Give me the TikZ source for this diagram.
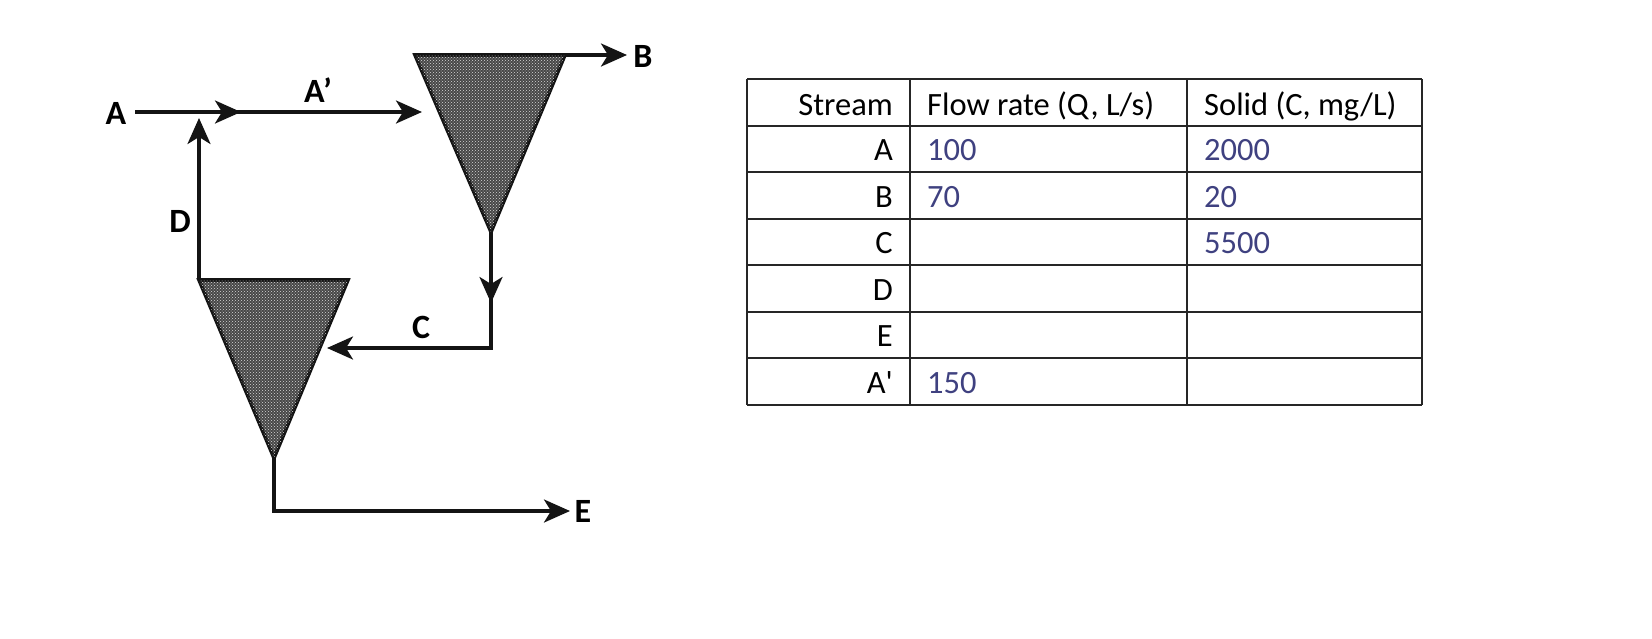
\documentclass[tikz,border=0pt]{standalone}
\usepackage{fontspec}
\setmainfont{Carlito}
\newfontfamily\tablefont{Carlito}
\usetikzlibrary{arrows.meta,patterns}

\definecolor{valueblue}{HTML}{3F4180}

\tikzset{
  flow/.style={line width=3.4pt,black!92},
  flowtip/.style={-{Stealth[length=26pt,width=23pt,inset=7pt]}},
  tank/.style={draw=black!92,line width=3.6pt,line join=miter,fill=black!72,
    postaction={pattern=crosshatch dots,pattern color=white!85!black}},
  streamlabel/.style={font=\fontsize{34}{34}\selectfont\bfseries,inner sep=0pt},
  tablerule/.style={line width=1.3pt,black!85},
  rowname/.style={font=\fontsize{32.5}{32.5}\tablefont\selectfont,anchor=base east,inner sep=0pt},
  cellvalue/.style={font=\fontsize{32.5}{32.5}\tablefont\selectfont,anchor=base west,inner sep=0pt,text=valueblue},
  headcell/.style={font=\fontsize{32.5}{32.5}\tablefont\selectfont,anchor=base west,inner sep=0pt}
}

\begin{document}
\begin{tikzpicture}[x=1pt,y=-1pt]
\useasboundingbox (0,0) rectangle (1652,638);

% settling tanks
\coordinate (t1a) at (415,55);
\coordinate (t1b) at (565,55);
\coordinate (t1c) at (491,232);
\coordinate (t2a) at (199,280);
\coordinate (t2b) at (348,280);
\coordinate (t2c) at (274,458);
\draw[tank] (t1a) -- (t1b) -- (t1c) -- cycle;
\draw[tank] (t2a) -- (t2b) -- (t2c) -- cycle;

% stream labels
\node[streamlabel] (labA) at (116,113) {A};
\node[streamlabel] (labAp) at (318,90) {A'};
\node[streamlabel] (labB) at (643,56) {B};
\node[streamlabel] (labC) at (421,327) {C};
\node[streamlabel] (labD) at (180,221) {D};
\node[streamlabel] (labE) at (583,511) {E};

\coordinate (startA) at (135,112);
\coordinate (mix) at (241,112);
\coordinate (inlet) at (422,112);
\coordinate (upD) at (199,118);
\coordinate (outB) at (627,55);
\coordinate (midC) at (491,303);
\coordinate (cornerC) at (491,348);
\coordinate (inC) at (327,348);
\coordinate (cornerE) at (274,511);
\coordinate (outE) at (570,511);

% streams
\draw[flow,flowtip] (startA) -- (mix);
\draw[flow,flowtip,shorten <=-8pt] (mix) -- (inlet);
\draw[flow,flowtip] (t2a) -- (upD);
\draw[flow,flowtip] (t1b) -- (outB);
\draw[flow,flowtip] (t1c) -- (midC);
\draw[flow,flowtip,shorten <=-8pt] (midC) -- (cornerC) -- (inC);
\draw[flow,flowtip] (t2c) -- (cornerE) -- (outE);

% table
\foreach \xx in {747,910,1187,1422} \draw[tablerule] (\xx,79) -- (\xx,405);
\foreach \yy in {79,126,172,219,265,312,358,405} \draw[tablerule] (747,\yy) -- (1422,\yy);

\node[rowname] (hStream) at (893,115) {Stream};
\node[headcell] (hFlow) at (927,115) {Flow rate (Q, L/s)};
\node[headcell] (hSolid) at (1204,115) {Solid (C, mg/L)};

\foreach \row/\yy/\txt in {rA/160/A,rB/207/B,rC/253/C,rD/300/D,rE/346/E,rAp/393/A'}
  \node[rowname] (\row) at (893,\yy) {\txt};

\node[cellvalue] (qA) at (927,160) {100};
\node[cellvalue] (qB) at (927,207) {70};
\node[cellvalue] (qAp) at (927,393) {150};
\node[cellvalue] (cA) at (1204,160) {2000};
\node[cellvalue] (cB) at (1204,207) {20};
\node[cellvalue] (cC) at (1204,253) {5500};

\end{tikzpicture}
\end{document}
